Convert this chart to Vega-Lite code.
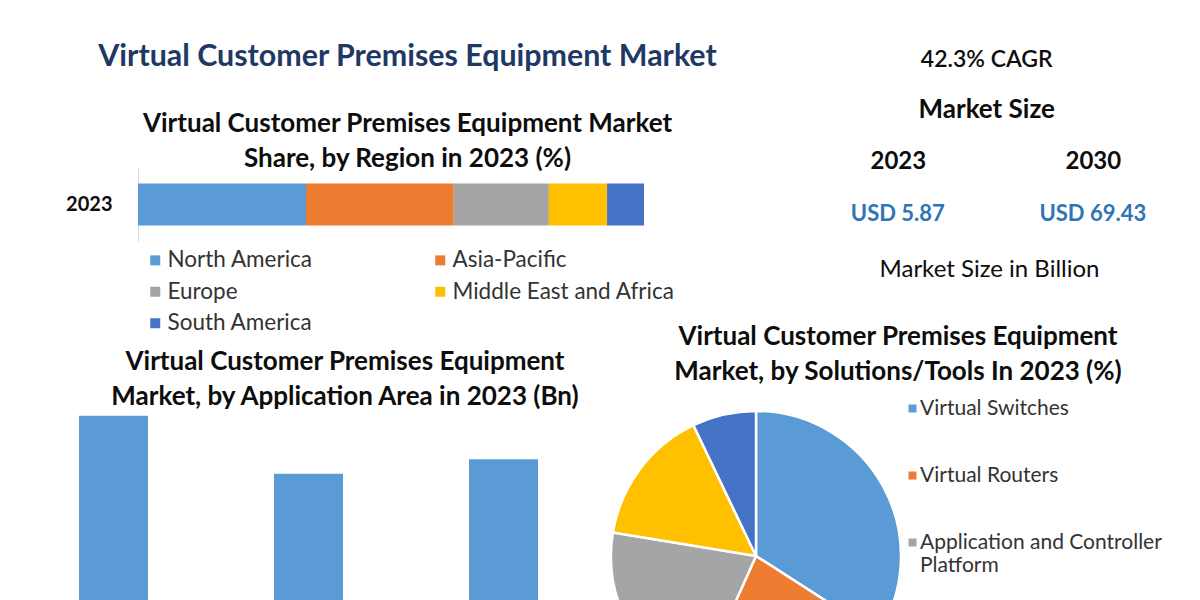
{
  "$schema": "https://vega.github.io/schema/vega-lite/v6.json",
  "background": "white",
  "padding": {"left": 65, "top": 41, "right": 0, "bottom": 0},
  "config": {
    "font": "Lato",
    "view": {"stroke": null},
    "title": {"font": "Lato", "subtitleFont": "Lato", "color": "#0d0d0d", "subtitleColor": "#0d0d0d", "fontWeight": "bold", "subtitleFontWeight": "bold", "anchor": "middle", "frame": "group"},
    "axis": {"labelFont": "Lato", "titleFont": "Lato"},
    "legend": {"labelFont": "Lato", "padding": 0}
  },
  "bounds": "flush",
  "columns": 2,
  "spacing": {"row": 152, "column": 73},
  "resolve": {"scale": {"color": "independent"}, "legend": {"color": "independent"}},
  "concat": [
    {
      "width": 459,
      "height": 73,
      "title": {
        "text": "Virtual Customer Premises Equipment Market", "fontSize": 30.4, "color": "#203864",
        "subtitle": ["Virtual Customer Premises Equipment Market", "Share, by Region in 2023 (%)"],
        "subtitleFontSize": 26, "subtitleLineHeight": 35, "subtitlePadding": 39,
        "dx": 99, "offset": -4
      },
      "data": {"values": [
        {"year": "2023", "region": "North America", "share": 33.2},
        {"year": "2023", "region": "Asia-Pacific", "share": 29.2},
        {"year": "2023", "region": "Europe", "share": 18.8},
        {"year": "2023", "region": "Middle East and Africa", "share": 11.5},
        {"year": "2023", "region": "South America", "share": 7.3}
      ]},
      "mark": {"type": "bar"},
      "encoding": {
        "y": {"field": "year", "type": "nominal", "scale": {"paddingInner": 0.27, "paddingOuter": 0.27},
          "axis": {"title": null, "ticks": false, "labelFontSize": 20, "labelFontWeight": "bold", "labelColor": "#0d0d0d", "labelPadding": 26, "domainColor": "#d9d9d9", "offset": -59}},
        "x": {"field": "share", "type": "quantitative", "stack": "zero", "scale": {"domain": [0, 100], "range": [59, 565]}, "axis": null},
        "color": {"field": "region", "type": "nominal",
          "scale": {"domain": ["North America", "Asia-Pacific", "Europe", "Middle East and Africa", "South America"], "range": ["#5b9bd5", "#ed7d31", "#a5a5a5", "#ffc000", "#4472c4"]},
          "legend": {"orient": "none", "legendX": 65, "legendY": 81, "direction": "horizontal", "columns": 2, "title": null, "symbolType": "square", "symbolSize": 100, "symbolStrokeWidth": 0, "labelFontSize": 22.5, "labelColor": "#333333", "rowPadding": 8.5, "columnPadding": 116, "labelOffset": 1, "labelLimit": 400}},
        "order": {"field": "share", "sort": "descending"}
      }
    },
    {
      "width": 579.5,
      "height": 91,
      "title": {"text": "42.3% CAGR", "subtitle": "Market Size", "fontSize": 23, "fontWeight": 600, "subtitleFontSize": 26, "subtitlePadding": 25, "offset": 26, "dx": 86},
      "data": {"values": [
        {"year": "2023", "value": 5.87, "label": "USD 5.87"},
        {"year": "2030", "value": 69.43, "label": "USD 69.43"}
      ]},
      "mark": {"type": "text", "fontSize": 22, "fontWeight": "bold", "color": "#2e75b6", "font": "Lato"},
      "encoding": {
        "x": {"field": "year", "type": "nominal", "scale": {"padding": 0.986, "align": 0.746},
          "axis": {"orient": "top", "ticks": false, "domain": false, "labelAngle": 0, "labelFontSize": 24, "labelFontWeight": "bold", "labelColor": "#0d0d0d", "labelBaseline": "middle", "labelPadding": 7,
            "title": "Market Size in Billion", "titleX": 378, "titleY": 101, "titleBaseline": "middle", "titleFontSize": 24, "titleFontWeight": "normal", "titleColor": "#0d0d0d"}},
        "text": {"field": "label"}
      }
    },
    {
      "width": 459,
      "height": 290,
      "title": {"text": ["Virtual Customer Premises Equipment", "Market, by Application Area in 2023 (Bn)"], "fontSize": 26, "lineHeight": 35, "dx": 36.5, "offset": 1},
      "data": {"values": [
        {"area": "Enterprises", "value": 2.95},
        {"area": "Service Providers", "value": 2.35},
        {"area": "Data Centers", "value": 2.5}
      ]},
      "mark": {"type": "bar", "color": "#5b9bd5"},
      "encoding": {
        "x": {"field": "area", "type": "nominal", "sort": null, "scale": {"paddingInner": 0.646, "paddingOuter": 0}, "axis": null},
        "y": {"field": "value", "type": "quantitative", "scale": {"domain": [0, 3]}, "axis": null}
      }
    },
    {
      "width": 290,
      "height": 290,
      "title": {"text": ["Virtual Customer Premises Equipment", "Market, by Solutions/Tools In 2023 (%)"], "fontSize": 26, "lineHeight": 35, "dx": 142, "offset": 13.5},
      "data": {"values": [
        {"tool": "Virtual Switches", "share": 34.1},
        {"tool": "Virtual Routers", "share": 22.6},
        {"tool": "Application and Controller Platform", "share": 20.9},
        {"tool": "Virtual Firewalls", "share": 15.3},
        {"tool": "Virtual WAN Optimization", "share": 7.1}
      ]},
      "mark": {"type": "arc", "outerRadius": 145, "stroke": "white", "strokeWidth": 2.5},
      "encoding": {
        "theta": {"field": "share", "type": "quantitative", "stack": true},
        "color": {"field": "tool", "type": "nominal",
          "scale": {"domain": ["Virtual Switches", "Virtual Routers", "Application and Controller Platform", "Virtual Firewalls", "Virtual WAN Optimization"], "range": ["#5b9bd5", "#ed7d31", "#a5a5a5", "#ffc000", "#4472c4"]},
          "legend": {"orient": "none", "legendX": 291, "legendY": -13, "title": null, "symbolType": "square", "symbolSize": 64, "symbolStrokeWidth": 0, "labelFontSize": 21, "labelColor": "#333333", "rowPadding": 45, "labelOffset": -3, "labelLimit": 400,
            "labelExpr": "datum.label == 'Application and Controller Platform' ? ['Application and Controller', 'Platform'] : datum.label"}},
        "order": {"field": "share", "sort": "descending"}
      }
    }
  ]
}
